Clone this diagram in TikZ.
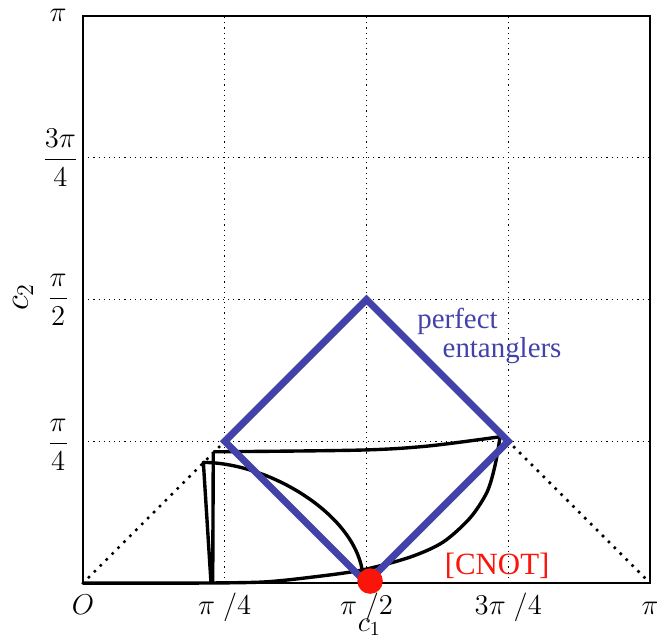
\documentclass[tikz,border=0pt]{standalone}
\usepackage{amsmath}
\usepackage[no-math]{fontspec}
\newfontfamily\timesfont{Liberation Serif}
\definecolor{entblue}{RGB}{66,66,170}
\definecolor{cnotred}{RGB}{250,20,10}

\begin{document}
\begin{tikzpicture}[
                    x=2.5cm, y=2.5cm,
                    axis/.style={draw, line width=1pt},
                    gridline/.style={dotted, line width=0.6pt},
                    diag/.style={line width=1.8pt, line cap=round, dash pattern=on 0pt off 4.2pt},
                    curve/.style={line width=1.7pt, line join=round},
                    border/.style={draw=entblue, line width=3.5pt, line join=miter},
                    ticklabel/.style={font=\fontsize{14.5}{17}\selectfont, inner sep=0pt},
                    note/.style={font=\timesfont\fontsize{14.5}{17}\selectfont, inner sep=0pt}
                ]
                    \useasboundingbox (-0.5855,-0.388) rectangle (4.049,4.113);

                    % Grid and box
                    \foreach \k in {1,2,3} {
                        \draw [gridline] (\k,0) -- (\k,4);
                        \draw [gridline] (0,\k) -- (4,\k);
                    }
                    \draw [diag] (0,0) -- (1,1);
                    \draw [diag] (3,1) -- (4,0);
                    \draw [axis] (0,0) rectangle (4,4);

                    % Curves
                    \draw [curve] (0,0) -- (0.79,0) plot [smooth] coordinates {(0.79,0) (1.263,0.007) (1.616,0.042) (1.968,0.092) (2.307,0.183) (2.540,0.289) (2.730,0.459) (2.850,0.642) (2.907,0.832) (2.942,1.032)};
                    \draw [curve] (0.915,0) -- (0.919,0.926) plot [smooth] coordinates {(0.919,0.926) (1.954,0.938) (2.427,0.966) (2.942,1.032)};
                    \draw [curve] (0.903,0) -- (0.849,0.851) .. controls (1.3,0.85) and (1.9,0.5) .. (1.97,0.09);

                    % Perfect entanglers
                    \coordinate (left) at (1,1);
                    \coordinate (top) at (2,2);
                    \coordinate (right) at (3,1);
                    \coordinate (bottom) at (2,0);
                    \path [border] (left) -- (top) -- (right) -- (bottom) -- cycle;
                    \node [circle, fill=cnotred, minimum size=0.45cm, inner sep=0pt] (dot) at (2.025,0.014) {};

                    % Place labels
                    \node [note, text=cnotred, font=\timesfont\fontsize{15.5}{18}\selectfont] (cnot) at (2.921,0.120) {[CNOT]};
                    \node [note, text=entblue] (perfect) at (2.642,1.848) {perfect};
                    \node [note, text=entblue] (entanglers) at (2.956,1.637) {entanglers};

                    \node [ticklabel, anchor=base] (x0) at (0,-0.22) {$O$};
                    \node [ticklabel, anchor=base] (x1) at (1,-0.22) {$\pi\mkern5mu/4$};
                    \node [ticklabel, anchor=base] (x2) at (2,-0.22) {$\pi\mkern5mu/2$};
                    \node [ticklabel, anchor=base] (x3) at (3,-0.22) {$3\pi\mkern5mu/4$};
                    \node [ticklabel, anchor=base] (x4) at (4,-0.22) {$\pi$};
                    \node [ticklabel, anchor=base] (c1) at (2.02,-0.34) {$c_1$};

                    \node [ticklabel] (y1) at (-0.176,0.975) {$\dfrac{\pi}{4}$};
                    \node [ticklabel] (y2) at (-0.176,2.0) {$\dfrac{\pi}{2}$};
                    \node [ticklabel] (y3) at (-0.160,3.0) {$\dfrac{3\pi}{4}$};
                    \node [ticklabel] (y4) at (-0.176,4.007) {$\pi$};
                    \node [ticklabel, rotate=90, font=\fontsize{17}{20}\selectfont] (c2) at (-0.423,2.018) {$c_2$};
            \end{tikzpicture}
\end{document}
